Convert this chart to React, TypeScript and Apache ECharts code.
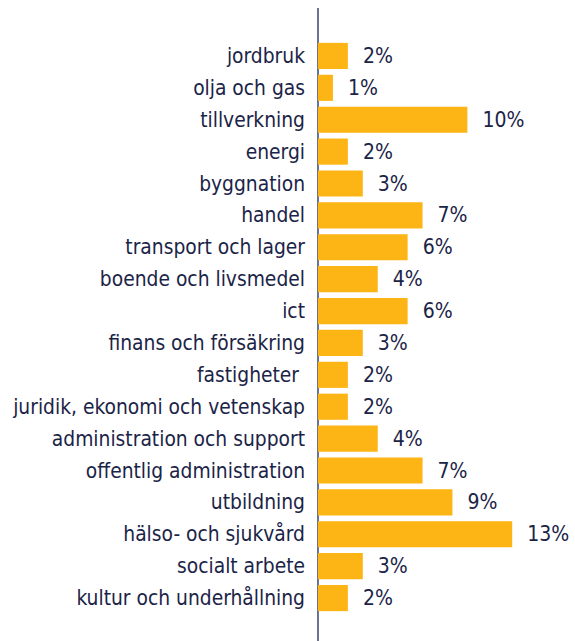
import React, { useEffect, useRef } from "react";
import * as echarts from "echarts";

const categories = [
  "jordbruk",
  "olja och gas",
  "tillverkning",
  "energi",
  "byggnation",
  "handel",
  "transport och lager",
  "boende och livsmedel",
  "ict",
  "finans och försäkring",
  "fastigheter ",
  "juridik, ekonomi och vetenskap",
  "administration och support",
  "offentlig administration",
  "utbildning",
  "hälso- och sjukvård",
  "socialt arbete",
  "kultur och underhållning",
];
const values = [2, 1, 10, 2, 3, 7, 6, 4, 6, 3, 2, 2, 4, 7, 9, 13, 3, 2];

const TEXT = "#1b2447";
const BAR = "#FDB515";
const FONT = "DejaVu Sans Condensed";

export default function App() {
  const ref = useRef<HTMLDivElement>(null);
  useEffect(() => {
    const chart = echarts.init(ref.current!, null, { renderer: "svg" });
    chart.setOption({
      animation: false,
      grid: { left: 318, right: 18, top: 40, bottom: 27, containLabel: false },
      xAxis: {
        type: "value",
        min: 0,
        max: 16,
        show: false,
      },
      yAxis: {
        type: "category",
        data: categories,
        inverse: true,
        axisLine: { show: false },
        axisTick: { show: false },
        axisLabel: {
          color: TEXT,
          fontFamily: FONT,
          fontSize: 20.8,
          margin: 13,
        },
      },
      graphic: [
        {
          type: "line",
          shape: { x1: 318, y1: 8, x2: 318, y2: 641 },
          style: { stroke: "#3b4468", lineWidth: 1.5 },
          silent: true,
        },
      ],
      series: [
        {
          type: "bar",
          data: values,
          barCategoryGap: "18%",
          itemStyle: { color: BAR },
          label: {
            show: true,
            position: "right",
            distance: 15,
            formatter: "{c}%",
            color: TEXT,
            fontFamily: FONT,
            fontSize: 21,
          },
        },
      ],
    });
    return () => chart.dispose();
  }, []);
  return (
    <div
      ref={ref}
      style={{ position: "fixed", left: 0, top: 0, width: 575, height: 641, background: "#fff" }}
    />
  );
}
